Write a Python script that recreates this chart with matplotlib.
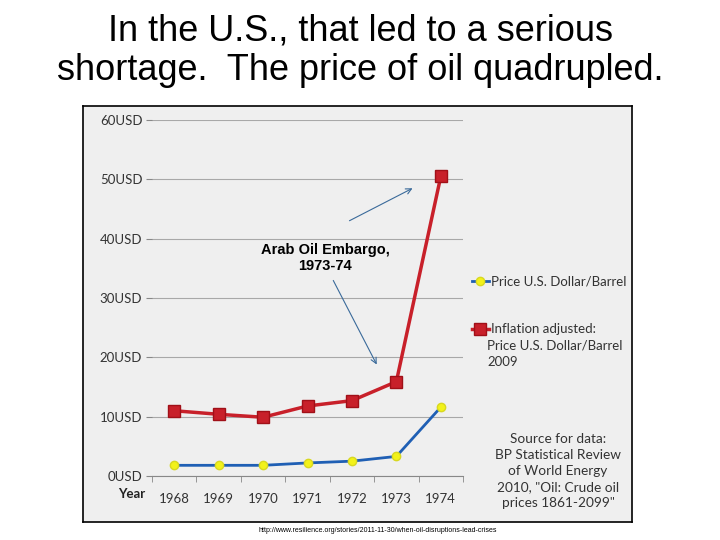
import matplotlib.pyplot as plt

years = ['1968', '1969', '1970', '1971', '1972', '1973', '1974']
price_nominal = [1.8, 1.8, 1.8, 2.2, 2.5, 3.3, 11.6]
price_2009 = [11.0, 10.4, 9.9, 11.8, 12.7, 15.9, 50.5]
y_ticks = [0, 10, 20, 30, 40, 50, 60]
y_labels = [str(v) + 'USD' for v in y_ticks]

fig = plt.figure(figsize=(7.2, 5.4), dpi=100)
W, H = 720.0, 540.0

fig.text(0.5, 1 - 51 / H, 'In the U.S., that led to a serious\nshortage.  The price of oil quadrupled.',
         ha='center', va='center', fontsize=26, family='Liberation Sans', linespacing=1.15)

# picture frame
frame = fig.add_axes([83 / W, 1 - 522 / H, (632 - 83) / W, (522 - 106) / H])
frame.set_facecolor('#efefef')
frame.set_xticks([])
frame.set_yticks([])
for s in frame.spines.values():
    s.set_color('black')
    s.set_linewidth(1.2)

ax = fig.add_axes([152 / W, 1 - 476 / H, (463 - 152) / W, (476 - 120) / H])
ax.patch.set_alpha(0)
x = list(range(len(years)))
ax.plot(x, price_nominal, color='#1f5fb4', linewidth=2, marker='o', markersize=6,
        markerfacecolor='#f2f21a', markeredgecolor='#d8d820', label='Price U.S. Dollar/Barrel', zorder=3)
ax.plot(x, price_2009, color='#c8202a', linewidth=2.5, marker='s', markersize=9,
        markerfacecolor='#c8202a', markeredgecolor='#a01018', label='Inflation adjusted:', zorder=3)

ax.set_xlim(-0.5, 6.5)
ax.set_ylim(0, 60)
ax.set_yticks(y_ticks)
ax.set_yticklabels(y_labels)
ax.set_xticks(x)
ax.set_xticklabels(years)
ax.set_xticks([i - 0.5 for i in range(len(years) + 1)], minor=True)
ax.tick_params(axis='x', which='major', length=0, pad=12, labelsize=9.5, labelcolor='#333333')
ax.tick_params(axis='x', which='minor', length=4, color='#888888', direction='out')
ax.tick_params(axis='y', length=4, color='#888888', labelsize=9.5, labelcolor='#333333', pad=3)
for t in ax.get_xticklabels() + ax.get_yticklabels():
    t.set_family('Lato')
ax.grid(axis='y', color='#a8a8a8', linewidth=0.8)
ax.set_axisbelow(True)
for side in ['top', 'right', 'left']:
    ax.spines[side].set_visible(False)
ax.spines['bottom'].set_color('#888888')

fig.text(132 / W, 1 - 494 / H, 'Year', ha='center', va='center', fontsize=9.5,
         fontweight='bold', family='Lato', color='#222222')

# annotation
fig.text(325 / W, 1 - 258 / H, 'Arab Oil Embargo,\n1973-74', ha='center', va='center',
         fontsize=10.5, fontweight='bold', family='Liberation Sans', linespacing=1.25)
arrow_style = dict(arrowstyle='->', color='#3a6a9a', linewidth=0.8)
ax.annotate('', xy=(415 / W, 1 - 187 / H), xytext=(347 / W, 1 - 222 / H),
            xycoords='figure fraction', textcoords='figure fraction', arrowprops=arrow_style)
ax.annotate('', xy=(378 / W, 1 - 367 / H), xytext=(332 / W, 1 - 278 / H),
            xycoords='figure fraction', textcoords='figure fraction', arrowprops=arrow_style)

leg = fig.legend(loc='upper left', bbox_to_anchor=(465 / W, 1 - 269 / H), frameon=False,
                 handlelength=1.3, handletextpad=0.2, labelspacing=2.7,
                 borderpad=0, prop={'family': 'Lato', 'size': 9.5})
for t in leg.get_texts():
    t.set_color('#333333')
fig.text(487 / W, 1 - 339 / H, 'Price U.S. Dollar/Barrel\n2009', ha='left', va='top',
         fontsize=9.5, family='Lato', color='#333333', linespacing=1.45)

fig.text(558 / W, 1 - 471 / H,
         'Source for data:\nBP Statistical Review\nof World Energy\n2010, "Oil: Crude oil\nprices 1861-2099"',
         ha='center', va='center', fontsize=9.8, family='Lato', color='#333333', linespacing=1.4)

fig.text(378 / W, 1 - 531 / H, 'http://www.resilience.org/stories/2011-11-30/when-oil-disruptions-lead-crises',
         ha='center', va='center', fontsize=5, family='Liberation Sans')

fig.savefig('out.png', dpi=100)
